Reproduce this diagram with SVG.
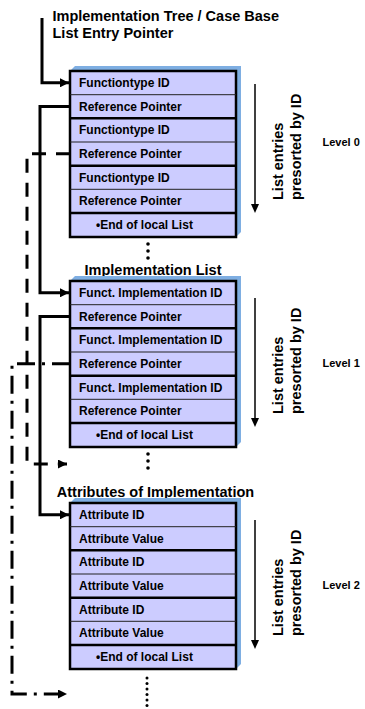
<svg xmlns="http://www.w3.org/2000/svg" width="365" height="709" viewBox="0 0 365 709">
<defs>
<style>
text{font-family:"Liberation Sans",Arial,sans-serif;font-weight:bold;fill:#000}
.row{font-size:12px}
.head{font-size:14.5px}
.lvl{font-size:11px}
.rot{font-size:14.5px}
.frame{fill:#ccccff;stroke:#000;stroke-width:2.5}
.shadow{fill:#7eaee2}
.thin{stroke:#222;stroke-width:1}
.thick{stroke:#000;stroke-width:2.5}
.conn{fill:none;stroke:#000;stroke-width:3}
.dash{stroke-dasharray:14 10}
.dashdot{stroke-dasharray:18 7 3 7}
.sort{stroke:#000;stroke-width:1.5}
</style>
<marker id="ah" viewBox="0 0 10 10" refX="10" refY="5" markerWidth="3" markerHeight="3" markerUnits="strokeWidth" orient="auto">
<path d="M0,0 L10,5 L0,10 z" fill="#000"/>
</marker>
</defs>
<rect width="365" height="709" fill="#fff"/>

<g id="title">
<text class="head" x="52.5" y="21">Implementation Tree / Case Base</text>
<text class="head" x="52.5" y="38">List Entry Pointer</text>
</g>

<g id="level0">
<polygon class="shadow" points="70,71 75,66 241,66 241,232 236,237"/>
<rect class="frame" x="70" y="71" width="166" height="166"/>
<line class="thin" x1="70" y1="94.7" x2="236" y2="94.7"/>
<line class="thick" x1="70" y1="118.3" x2="236" y2="118.3"/>
<line class="thin" x1="70" y1="142" x2="236" y2="142"/>
<line class="thick" x1="70" y1="165.7" x2="236" y2="165.7"/>
<line class="thin" x1="70" y1="189.3" x2="236" y2="189.3"/>
<line class="thick" x1="70" y1="213" x2="236" y2="213"/>
<text class="row" x="79" y="87">Functiontype ID</text>
<text class="row" x="79" y="110.7">Reference Pointer</text>
<text class="row" x="79" y="134.3">Functiontype ID</text>
<text class="row" x="79" y="158">Reference Pointer</text>
<text class="row" x="79" y="181.7">Functiontype ID</text>
<text class="row" x="79" y="205.3">Reference Pointer</text>
<text class="row" x="96" y="229">•End of local List</text>
</g>

<g id="sort0">
<line class="sort" x1="255" y1="84" x2="255" y2="205"/>
<polygon points="251,204 259,204 255,213"/>
<text class="rot" transform="translate(283,200) rotate(-90)">List entries</text>
<text class="rot" transform="translate(301,200) rotate(-90)">presorted by ID</text>
<text class="lvl" x="322.5" y="146">Level 0</text>
</g>

<g id="dots0">
<circle cx="148" cy="244" r="1.8"/>
<circle cx="148" cy="251" r="1.8"/>
<circle cx="148" cy="258" r="1.8"/>
</g>

<g id="level1">
<text class="head" x="153" y="274.5" text-anchor="middle">Implementation List</text>
<polygon class="shadow" points="70,281 75,276 241,276 241,442 236,447"/>
<rect class="frame" x="70" y="281" width="166" height="166"/>
<line class="thin" x1="70" y1="304.7" x2="236" y2="304.7"/>
<line class="thick" x1="70" y1="328.3" x2="236" y2="328.3"/>
<line class="thin" x1="70" y1="352" x2="236" y2="352"/>
<line class="thick" x1="70" y1="375.7" x2="236" y2="375.7"/>
<line class="thin" x1="70" y1="399.3" x2="236" y2="399.3"/>
<line class="thick" x1="70" y1="423" x2="236" y2="423"/>
<text class="row" x="79" y="297">Funct. Implementation ID</text>
<text class="row" x="79" y="320.7">Reference Pointer</text>
<text class="row" x="79" y="344.3">Funct. Implementation ID</text>
<text class="row" x="79" y="368">Reference Pointer</text>
<text class="row" x="79" y="391.7">Funct. Implementation ID</text>
<text class="row" x="79" y="415.3">Reference Pointer</text>
<text class="row" x="96" y="439">•End of local List</text>
</g>

<g id="sort1">
<line class="sort" x1="255" y1="298" x2="255" y2="419"/>
<polygon points="251,418 259,418 255,427"/>
<text class="rot" transform="translate(283,414) rotate(-90)">List entries</text>
<text class="rot" transform="translate(301,414) rotate(-90)">presorted by ID</text>
<text class="lvl" x="322.5" y="367">Level 1</text>
</g>

<g id="dots1">
<circle cx="148" cy="454" r="1.8"/>
<circle cx="148" cy="461" r="1.8"/>
<circle cx="148" cy="468" r="1.8"/>
</g>

<g id="level2">
<text class="head" x="155.5" y="497" text-anchor="middle">Attributes of Implementation</text>
<polygon class="shadow" points="70,503 75,498 241,498 241,664 236,669"/>
<rect class="frame" x="70" y="503" width="166" height="166"/>
<line class="thin" x1="70" y1="526.7" x2="236" y2="526.7"/>
<line class="thick" x1="70" y1="550.3" x2="236" y2="550.3"/>
<line class="thin" x1="70" y1="574" x2="236" y2="574"/>
<line class="thick" x1="70" y1="597.7" x2="236" y2="597.7"/>
<line class="thin" x1="70" y1="621.3" x2="236" y2="621.3"/>
<line class="thick" x1="70" y1="645" x2="236" y2="645"/>
<text class="row" x="79" y="519">Attribute ID</text>
<text class="row" x="79" y="542.7">Attribute Value</text>
<text class="row" x="79" y="566.3">Attribute ID</text>
<text class="row" x="79" y="590">Attribute Value</text>
<text class="row" x="79" y="613.7">Attribute ID</text>
<text class="row" x="79" y="637.3">Attribute Value</text>
<text class="row" x="96" y="661">•End of local List</text>
</g>

<g id="sort2">
<line class="sort" x1="255" y1="520" x2="255" y2="641"/>
<polygon points="251,640 259,640 255,649"/>
<text class="rot" transform="translate(283,636) rotate(-90)">List entries</text>
<text class="rot" transform="translate(301,636) rotate(-90)">presorted by ID</text>
<text class="lvl" x="322.5" y="589">Level 2</text>
</g>

<g id="dots2">
<circle cx="147" cy="678" r="1.5"/>
<circle cx="147" cy="683.5" r="1.5"/>
<circle cx="147" cy="689" r="1.5"/>
<circle cx="147" cy="694.5" r="1.5"/>
<circle cx="147" cy="700" r="1.5"/>
<circle cx="147" cy="705.5" r="1.5"/>
</g>

<g id="connectors">
<path class="conn" d="M42,18 V82.8 H69" marker-end="url(#ah)"/>
<path class="conn" d="M70,106.5 H40 V292.8 H69" marker-end="url(#ah)"/>
<path class="conn dash" d="M70,153.8 H27 V464 H67" marker-end="url(#ah)"/>
<path class="conn" d="M70,316.5 H40 V514.8 H69" marker-end="url(#ah)"/>
<path class="conn dashdot" d="M70,363.8 H12 V694 H67" marker-end="url(#ah)"/>
</g>
</svg>
